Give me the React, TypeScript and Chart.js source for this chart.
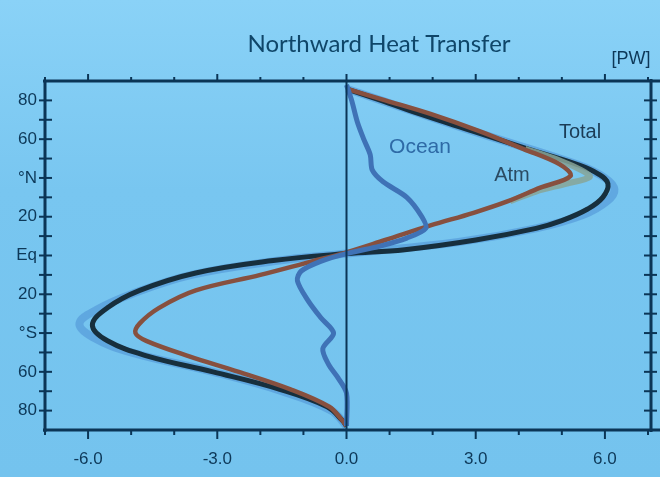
import React, { useEffect, useRef } from "react";
import { Chart, registerables } from "chart.js";
Chart.register(...registerables);

// Latitude (deg, + = N) and northward heat transport (PW)
const totalLat = [86, 80, 73, 64, 55, 47, 42, 37, 30, 24, 18, 14, 8, 3, 1, -2.6, -9, -18, -27, -36, -44, -52, -60, -69, -78, -85, -88];
const totalPW = [0, 0.8, 1.7, 2.95, 4.2, 5.35, 5.85, 6.07, 5.95, 5.6, 5.0, 4.4, 3.0, 1.35, 0, -1.7, -3.5, -4.8, -5.55, -5.9, -5.55, -4.6, -3.1, -1.55, -0.45, -0.1, 0];

const atmLat = [86, 80, 73, 64, 55, 47, 41, 35, 28, 22, 15.5, 8, 1, -3, -10, -18, -27, -35, -40, -44, -52, -60, -69, -78, -85, -88];
const atmPW = [0, 0.9, 1.95, 3.1, 4.1, 4.95, 5.2, 4.5, 3.75, 2.95, 1.95, 0.9, -0.1, -0.8, -2.0, -3.5, -4.35, -4.8, -4.9, -4.65, -3.65, -2.5, -1.3, -0.4, -0.1, 0];

const atmAltLat = [55, 49, 44, 40.5, 37, 33, 28];
const atmAltPW = [4.15, 4.95, 5.45, 5.65, 5.1, 4.4, 3.8];

const oceanLat = [88, 80, 69, 60, 52, 44, 38, 30, 20, 14, 9, 5, 1, -3, -8, -13, -23, -32, -40, -48, -56, -63, -71, -88];
const oceanPW = [0, 0.12, 0.25, 0.4, 0.55, 0.6, 0.85, 1.4, 1.75, 1.84, 1.4, 0.8, 0, -0.6, -1.05, -1.14, -0.9, -0.6, -0.3, -0.55, -0.42, -0.2, 0, 0];

const shadeLat = [86, 80, 64, 47, 40, 34, 28, 21, 14, 7, 1, -3, -10, -20, -28, -35, -42, -50, -60, -70, -80, -88];
const shadePW = [0, 0.8, 2.95, 5.35, 6.0, 6.22, 6.05, 5.5, 4.4, 2.6, 0, -1.7, -3.6, -5.0, -5.8, -6.2, -5.9, -5.0, -3.1, -1.5, -0.35, 0];

const xLabelValues = [-6, -3, 0, 3, 6];
const yLabelValues = [80, 60, 40, 20, 0, -20, -40, -60, -80];
const yLabelTexts = ["80", "60", "°N", "20", "Eq", "20", "°S", "60", "80"];

const AXIS = "#0b3556";
const TEXT = "#0d3858";

const pts = (lat: number[], v: number[]) => lat.map((l, i) => ({ x: v[i], y: l }));

const decorPlugin = {
  id: "decor",
  afterDatasetsDraw(chart: any) {
    const { ctx, chartArea: a, scales } = chart;
    const x = scales.x;
    const y = scales.y;
    const ln = (x1: number, y1: number, x2: number, y2: number) => {
      ctx.beginPath();
      ctx.moveTo(x1, y1);
      ctx.lineTo(x2, y2);
      ctx.stroke();
    };
    ctx.save();
    ctx.strokeStyle = AXIS;
    ctx.lineCap = "butt";
    const x0 = x.getPixelForValue(0);
    ctx.lineWidth = 2;
    ln(x0, a.top, x0, a.bottom);
    ctx.lineWidth = 3;
    ln(a.left - 2, a.top, a.right + 12, a.top);
    ln(a.left - 2, a.bottom, a.right + 12, a.bottom);
    ln(a.left, a.top, a.left, a.bottom + 2);
    ln(a.right + 3, a.top - 2, a.right + 3, a.bottom + 2);
    ctx.lineWidth = 2;
    for (let v = -7; v <= 7; v++) {
      const px = x.getPixelForValue(v);
      const major = v % 3 === 0;
      ln(px, a.top, px, a.top - (major ? 7 : 4));
      ln(px, a.bottom, px, a.bottom + (major ? 9 : 5));
    }
    for (let v = -80; v <= 80; v += 10) {
      const py = y.getPixelForValue(v);
      ln(a.left - 6, py, a.left + 7, py);
      ln(a.right - 4, py, a.right + 9, py);
    }
    ctx.restore();
  },
  afterDraw(chart: any) {
    const { ctx } = chart;
    ctx.save();
    ctx.textAlign = "center";
    ctx.textBaseline = "middle";
    ctx.fillStyle = "#0f4669";
    ctx.font = "24px Lato";
    ctx.fillText("Northward Heat Transfer", 379, 44);
    ctx.font = "18px 'Liberation Sans'";
    ctx.fillStyle = TEXT;
    ctx.fillText("[PW]", 631, 59);
    ctx.font = "21px 'Liberation Sans'";
    ctx.fillStyle = "#2e6aa6";
    ctx.fillText("Ocean", 420, 147);
    ctx.font = "20px 'Liberation Sans'";
    ctx.fillStyle = "#1b3c56";
    ctx.fillText("Total", 580, 132);
    ctx.fillStyle = "#2a4a62";
    ctx.fillText("Atm", 512, 175);
    ctx.restore();
  },
};

export default function App() {
  const ref = useRef<HTMLCanvasElement | null>(null);
  useEffect(() => {
    if (!ref.current) return;
    const chart = new Chart(ref.current, {
      type: "scatter",
      data: {
        datasets: [
          { label: "Ocean", data: pts(oceanLat, oceanPW), showLine: true, borderColor: "#3f72b6", borderWidth: 5, pointRadius: 0, tension: 0.3, order: 0 },
          { label: "Atm", data: pts(atmLat, atmPW), showLine: true, borderColor: "#87503f", borderWidth: 4.5, pointRadius: 0, tension: 0.35, order: 1 },
          { label: "Atm (alt)", data: pts(atmAltLat, atmAltPW), showLine: true, borderColor: "rgba(135,165,150,0.85)", borderWidth: 6, pointRadius: 0, tension: 0.3, order: 2 },
          { label: "Total", data: pts(totalLat, totalPW), showLine: true, borderColor: "#172f3d", borderWidth: 5, pointRadius: 0, tension: 0.4, order: 3 },
          { label: "Shade", data: pts(shadeLat, shadePW), showLine: true, borderColor: "rgba(85,155,218,0.7)", borderWidth: 8, pointRadius: 0, tension: 0.4, order: 4 },
        ],
      },
      options: {
        animation: false,
        responsive: false,
        events: [],
        layout: { padding: { top: 81, right: 12, left: 0, bottom: 0 } },
        plugins: { legend: { display: false }, tooltip: { enabled: false }, title: { display: false } },
        scales: {
          x: {
            type: "linear",
            min: -7,
            max: 7,
            afterFit: (s: any) => { s.height = 47; s.paddingLeft = 0; s.paddingRight = 0; },
            grid: { display: false, drawTicks: false },
            border: { display: false },
            ticks: {
              stepSize: 1,
              autoSkip: false,
              maxRotation: 0,
              padding: 19,
              color: TEXT,
              font: { family: "'Liberation Sans'", size: 17 },
              callback: (v: any) => (xLabelValues.includes(Number(v)) ? Number(v).toFixed(1) : ""),
            },
          },
          y: {
            type: "linear",
            min: -90,
            max: 90,
            afterFit: (s: any) => { s.width = 45; s.paddingTop = 0; s.paddingBottom = 0; },
            grid: { display: false, drawTicks: false },
            border: { display: false },
            ticks: {
              stepSize: 10,
              autoSkip: false,
              padding: 8,
              color: TEXT,
              font: { family: "'Liberation Sans'", size: 17 },
              callback: (v: any) => {
                const i = yLabelValues.indexOf(Number(v));
                return i >= 0 ? yLabelTexts[i] : "";
              },
            },
          },
        },
      },
      plugins: [decorPlugin],
    } as any);
    return () => chart.destroy();
  }, []);
  return (
    <div style={{ position: "fixed", left: 0, top: 0, width: 660, height: 477, background: "linear-gradient(#8ad2f7, #78c6f0 40%, #74c3ee)" }}>
      <canvas ref={ref} width={660} height={477} style={{ display: "block" }} />
    </div>
  );
}
